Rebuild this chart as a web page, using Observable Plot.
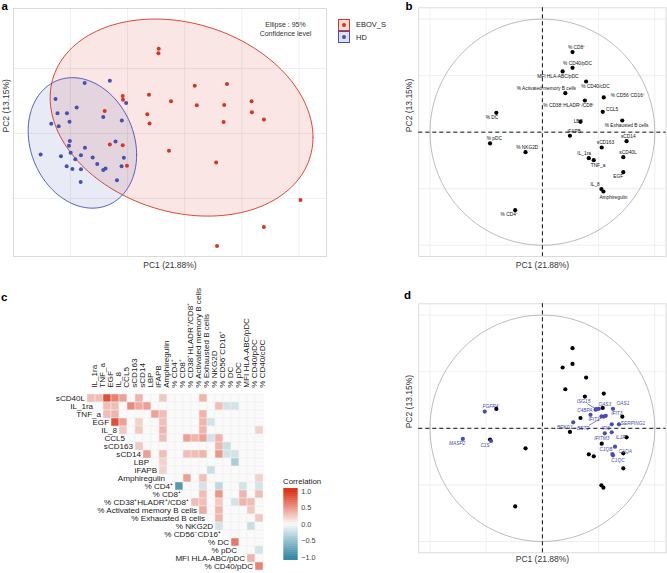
<!DOCTYPE html>
<html><head><meta charset="utf-8">
<script src="https://cdn.jsdelivr.net/npm/d3@7"></script>
<script src="https://cdn.jsdelivr.net/npm/@observablehq/plot@0.6"></script>
<style>
body{margin:0;background:#fff;font-family:"Liberation Sans",Arial,sans-serif;}
#fig{position:relative;width:667px;height:573px;overflow:hidden;background:#fff}
.panel{position:absolute}
.tag{position:absolute;font-weight:bold;font-size:11.5px;line-height:1;color:#000}
.key{position:absolute;width:10px;height:10px;border:1px solid;box-sizing:content-box}
.key i{position:absolute;left:3px;top:3px;width:4px;height:4px;border-radius:50%}
.ktxt{position:absolute;font-size:7.5px;line-height:1;color:#222}
</style></head><body><div id="fig"></div>
<script>
// ---------------- DATA ----------------
// Panel a: individual PCA scores
const ebovPC1 = [1.09,1.08,2.35,3.48,0.75,-0.17,-0.16,1.52,2.42,4.34,3.38,-0.80,0.69,4.35,0.77,3.36,4.77,-0.62,-0.17,1.45,3.10,-0.02,6.05,4.77,3.13];
const ebovPC2 = [2.61,2.47,1.47,1.52,1.19,1.15,1.04,0.99,0.87,0.99,0.88,0.69,0.59,0.65,0.31,0.35,0.43,-0.34,-0.36,-0.53,-0.89,-0.99,-2.05,-2.88,-3.46];
const hdPC1 = [-1.50,-0.62,-2.52,-0.05,-1.78,-2.45,-2.12,-0.85,-0.20,-2.67,-2.41,-2.03,-2.02,-2.05,-0.42,-3.04,-2.33,-1.99,-1.49,-1.63,-1.22,-1.83,-0.13,-2.13,-1.93,-1.63,-1.06,-0.85,-0.77,-0.21,-0.37,-1.64];
const hdPC2 = [1.55,1.62,1.06,0.94,0.80,0.62,0.62,0.51,0.40,0.30,0.22,0.36,-0.23,-0.38,-0.25,-0.65,-0.70,-0.59,-0.44,-0.67,-0.74,-0.79,-0.75,-1.01,-1.09,-1.10,-0.94,-1.12,-1.08,-1.01,-1.44,-1.49];
// 95% ellipses: centre and shape matrix
const ebovEllipseCenter = [1.89, 0.49];
const ebovEllipseShape = [[21.14, -2.80], [-2.80, 9.19]];
const hdEllipseCenter = [-1.58, -0.29];
const hdEllipseShape = [[3.60, -0.70], [-0.70, 4.03]];
const groups = ["EBOV_S", "HD"];
const gridA_x = [-2, 0, 2, 4, 6];
const gridA_y = [-2, 0, 2];

// Panel b/d: variable correlations with PCs
const vars = ["sCD40L","IL_1ra","TNF_a","EGF","IL_8","CCL5","sCD163","sCD14","LBP","iFAPB","Amphiregulin","% CD4⁺","% CD8⁺","% CD38⁺HLADR⁺/CD8⁺","% Activated memory B cells","% Exhausted B cells","% NKG2D","% CD56⁻CD16⁺","% DC","% pDC","MFI HLA-ABC/pDC","% CD40/pDC","% CD40/cDC"];
const varPC1 = [0.720,0.413,0.457,0.720,0.525,0.537,0.528,0.749,0.339,0.245,0.543,-0.242,0.268,0.378,0.204,0.711,-0.150,0.546,-0.410,-0.466,0.180,0.268,0.389];
const varPC2 = [-0.221,-0.230,-0.248,-0.354,-0.504,0.180,-0.136,-0.080,0.091,-0.032,-0.525,-0.690,0.708,0.280,0.345,0.103,-0.177,0.307,0.171,-0.100,0.537,0.569,0.448];
const varLabelNudge = [[4.7,-4.7],[-4.7,-4.7],[4.3,5],[-5,4.7],[-6.3,-5],[9.3,-2.3],[3.7,-5],[1.7,-5],[-2.3,0],[4.3,-4.7],[10,5.7],[-6,4.7],[4,-4.7],[-16,5.3],[-19,-4.3],[4.3,5],[1.7,-5],[24,-1.7],[-4.3,5],[4.3,-4.7],[-4.7,5],[5,-4.7],[9.3,5]];
const genes = ["FGFR4","MASP2","C1S","BRKD1","IFIT1","C4BPA","ISG15","OAS3","OAS1","","BST2","IFIT3","SERPING1","IFI6","IFITM3","IL1R","C1QB","C1QA","C1QC"];
const genePC1 = [-0.513,-0.708,-0.457,0.274,0.428,0.473,0.480,0.502,0.628,0.526,0.546,0.564,0.681,0.617,0.555,0.617,0.646,0.623,0.628];
const genePC2 = [0.148,-0.094,-0.112,0.053,0.119,0.165,0.169,0.172,0.172,0.106,0.104,0.110,0.035,0.035,-0.044,-0.035,-0.162,-0.227,-0.239];
const geneLabelNudge = [[5.7,-5],[-5.7,5],[-6,4.4],[-8.3,5],[3.6,4.7],[-10.7,1],[-12.7,-7.7],[6,-4.3],[10,-5],[0,0],[-20.7,12.3],[11,-2],[14,-1],[-6,4],[-3,5],[9,5],[-9,3],[13,-3],[5,5]];
const geneLinked = ["ISG15","BST2"];
const circleGrid = [-1, -0.5, 0, 0.5, 1];

// Panel c: correlation matrix, upper triangle (row i starts at column i)
const corrRows = vars.slice(0, 22);
const corrCols = vars.slice(1);
const corrUpper = [
  [0.3,0.3,0.85,0.6,0.45,0,0.35,0,0,0.25,0,0,0,0,0.35,0,0,0,0,0,0,0],
  [0,0.3,0.3,0,0.55,0.4,0.45,0,0,0,0,0,0,0,0,0.3,-0.2,-0.2,0,0,0],
  [0.3,0.35,0,0,0,0,0.45,0.3,0,0,0,0,0.35,0,0,0,0,0,0,0],
  [0.85,0.45,0,0.2,0,0,0.3,0,0,0,0,0.35,-0.2,0,0,0,0,0,0],
  [0.25,0,0.25,0,0,0.35,0,0,0,0,0.35,0,0,0,0,0,0,0.2],
  [0,0,0,0,0.3,0,0,0.45,0.35,0.45,-0.2,0.35,0,0,0,0,0],
  [0.25,0,0,0,0,0,0,0,0,0,0.35,-0.25,0,0,0,0],
  [0.45,0,0.3,0,0,0.3,0.3,0.35,0,0.5,-0.2,-0.2,0,0,0],
  [0,0.2,0,0,0,0,0,0,0,0,-0.4,0,0,0],
  [0.2,0,0,0,0,0,-0.25,0,0,0,0,0,0],
  [0,0,0.45,0,0.3,0,0,0,0,0,0,0.2],
  [-0.85,0,0,-0.2,0,-0.3,0,0,-0.2,0,-0.2],
  [0,0,0.3,0,0.5,0,0,0.35,0,0.3],
  [0.3,0.3,0,0.25,0,-0.2,0.35,0.3,0],
  [0.4,0,0.35,0,0,0,0.25,0],
  [0,0.35,0,0,0,0,0.25],
  [-0.2,0,0,0,-0.25,0],
  [0,0,0,0,0],
  [0.65,0,0,0],
  [0,0,-0.2],
  [0.35,0],
  [0.6]
];
const legendTicks = [1, 0.5, 0, -0.5, -1];
const legendTickLabels = ["1.0", "0.5", "0.0", "−0.5", "−1.0"];

// ---------------- STYLE ----------------
const FONT = "'Liberation Sans', Arial, Helvetica, sans-serif";
const RED = "#d9341f", BLUE = "#4450b4", GENE = "#4a4ab8";
const GRID = "#ebebeb", FRAME = "#d2d2d2";
const baseStyle = {fontFamily: FONT, background: "transparent", overflow: "visible"};
const fig = document.getElementById("fig");
function place(el, left, top) {
  const d = document.createElement("div");
  d.className = "panel"; d.style.left = left + "px"; d.style.top = top + "px";
  d.appendChild(el); fig.appendChild(d); return d;
}
function html(cls, left, top, text, extra) {
  const d = document.createElement("div");
  d.className = cls; d.style.left = left + "px"; d.style.top = top + "px";
  if (text) d.textContent = text;
  if (extra) Object.assign(d.style, extra);
  fig.appendChild(d); return d;
}
function ellipsePoints(center, shape, n = 160) {
  const a = Math.sqrt(shape[0][0]);
  const b = shape[0][1] / a;
  const c = Math.sqrt(shape[1][1] - b * b);
  return d3.range(n + 1).map(i => {
    const t = 2 * Math.PI * i / n;
    return {x: center[0] + a * Math.cos(t), y: center[1] + b * Math.cos(t) + c * Math.sin(t)};
  });
}

// ---------------- PANEL A ----------------
const ebov = ebovPC1.map((x, i) => ({x, y: ebovPC2[i]}));
const hd = hdPC1.map((x, i) => ({x, y: hdPC2[i]}));
const pa = Plot.plot({
  width: 330, height: 280, marginLeft: 13, marginRight: 4, marginTop: 8, marginBottom: 24,
  x: {domain: [-3.99, 6.96], axis: null},
  y: {domain: [-3.785, 3.846], axis: null},
  style: baseStyle,
  marks: [
    Plot.ruleX(gridA_x, {stroke: GRID, strokeWidth: 0.8}),
    Plot.ruleY(gridA_y, {stroke: GRID, strokeWidth: 0.8}),
    Plot.frame({stroke: FRAME, strokeWidth: 0.8}),
    Plot.line(ellipsePoints(ebovEllipseCenter, ebovEllipseShape), {x: "x", y: "y", fill: RED, fillOpacity: 0.12, stroke: RED, strokeWidth: 0.9}),
    Plot.line(ellipsePoints(hdEllipseCenter, hdEllipseShape), {x: "x", y: "y", fill: BLUE, fillOpacity: 0.12, stroke: BLUE, strokeWidth: 0.9}),
    Plot.dot(hd, {x: "x", y: "y", r: 2, fill: BLUE}),
    Plot.dot(ebov, {x: "x", y: "y", r: 2, fill: RED}),
    Plot.text(["Ellipse : 95%\nConfidence level"], {text: d => d, frameAnchor: "top-right", textAnchor: "middle", lineAnchor: "top", dx: -41, dy: 12, fontSize: 7, lineHeight: 1.3, fill: "#333"}),
    Plot.text(["PC1 (21.88%)"], {text: d => d, frameAnchor: "bottom", dy: 11, fontSize: 8.5, fill: "#333"}),
    Plot.text(["PC2 (13.15%)"], {text: d => d, frameAnchor: "left", rotate: -90, dx: -7, fontSize: 8.5, fill: "#333"})
  ]
});
place(pa, 0, 0);
// legend for a
[[RED, "#f8ddd7", groups[0], 18.5], [BLUE, "#dfe1f3", groups[1], 31]].forEach(([c, bg, label, top]) => {
  const k = html("key", 337.5, top, "", {borderColor: c, background: bg});
  const dot = document.createElement("i"); dot.style.background = c; k.appendChild(dot);
  html("ktxt", 356, top + 2.5, label);
});

// ---------------- PANEL B & D ----------------
const varPts = vars.map((name, i) => ({name, x: varPC1[i], y: varPC2[i]}));
const genePts = genes.map((name, i) => ({name, x: genePC1[i], y: genePC2[i]}));
const circle = d3.range(241).map(i => ({x: Math.cos(2 * Math.PI * i / 240), y: Math.sin(2 * Math.PI * i / 240)}));
function corrCircle(extra, dims) {
  return Plot.plot({
    width: 327, height: dims.h, marginLeft: 78.3, marginRight: 1.5, marginTop: dims.mt, marginBottom: dims.mb,
    x: {domain: [-1.1, 1.1], axis: null},
    y: {domain: [-1.1, 1.1], axis: null},
    style: baseStyle,
    marks: [
      Plot.ruleX(circleGrid, {stroke: GRID, strokeWidth: 0.8}),
      Plot.ruleY(circleGrid, {stroke: GRID, strokeWidth: 0.8}),
      Plot.frame({stroke: FRAME, strokeWidth: 0.8}),
      Plot.line(circle, {x: "x", y: "y", stroke: "#a9a9a9", strokeWidth: 0.8}),
      Plot.ruleX([0], {stroke: "#111", strokeWidth: 1, strokeDasharray: "4,3"}),
      Plot.ruleY([0], {stroke: "#111", strokeWidth: 1, strokeDasharray: "4,3"}),
      Plot.dot(varPts, {x: "x", y: "y", r: 2.1, fill: "#000"}),
      ...extra,
      Plot.text(["PC1 (21.88%)"], {text: d => d, frameAnchor: "bottom", dy: dims.xdy, fontSize: 8.5, fill: "#333"}),
      Plot.text(["PC2 (13.15%)"], {text: d => d, frameAnchor: "left", rotate: -90, dx: -10, fontSize: 8.5, fill: "#333"})
    ]
  });
}
const bLabels = varPts.map((d, i) => Plot.text([d], {x: "x", y: "y", text: "name", dx: varLabelNudge[i][0], dy: varLabelNudge[i][1], fontSize: 4.8, fill: "#111"}));
place(corrCircle(bLabels, {h: 280, mt: 7.3, mb: 24, xdy: 11}), 340, 0);

const kpx = (327 - 78.3 - 1.5) / 2.2; // pixels per unit in panels b/d
const geneLinks = genePts.map((d, i) => ({...d, nx: geneLabelNudge[i][0], ny: geneLabelNudge[i][1]}))
  .filter(d => geneLinked.includes(d.name))
  .map(d => ({x1: d.x, y1: d.y, x2: d.x + 0.72 * d.nx / kpx, y2: d.y - 0.72 * d.ny / kpx}));
const dMarks = [
  Plot.link(geneLinks, {x1: "x1", y1: "y1", x2: "x2", y2: "y2", stroke: GENE, strokeWidth: 0.7}),
  Plot.dot(genePts, {x: "x", y: "y", r: 2.1, fill: GENE}),
  ...genePts.map((d, i) => Plot.text([d], {x: "x", y: "y", text: "name", dx: geneLabelNudge[i][0], dy: geneLabelNudge[i][1], fontSize: 4.8, fontStyle: "italic", fill: GENE}))
];
place(corrCircle(dMarks, {h: 293, mt: 23.3, mb: 20.7, xdy: 9.5}), 340, 280);

// ---------------- PANEL C ----------------
const colorScale = {type: "linear", domain: [-1, 0, 1], range: ["#3589a4", "#fafafa", "#dd3216"], interpolate: "rgb", clamp: true};
const cells = [];
corrUpper.forEach((vals, i) => vals.forEach((v, k) => cells.push({row: corrRows[i], col: corrCols[i + k], v})));
const pc = Plot.plot({
  width: 340, height: 293, marginLeft: 81.7, marginRight: 70.9, marginTop: 110.8, marginBottom: 0.3,
  x: {domain: corrCols, padding: 0, axis: null},
  y: {domain: corrRows, padding: 0, axis: null},
  color: colorScale,
  style: baseStyle,
  marks: [
    Plot.cell(cells, {x: "col", y: "row", fill: "v", stroke: "#efefef", strokeWidth: 0.5}),
    Plot.text(corrRows, {x: (d, i) => corrCols[i], y: d => d, text: d => d, textAnchor: "end", dx: -6.4, fontSize: 8.1, fill: "#1a1a1a"}),
    Plot.text(corrCols, {x: d => d, text: d => d, frameAnchor: "top", rotate: -90, textAnchor: "start", dy: -3.5, fontSize: 8.1, fill: "#1a1a1a"})
  ]
});
place(pc, 0, 280);
// colour bar legend
const step = 0.06;
const bins = d3.range(-1.08, 1.08 - 1e-9, step);
const pleg = Plot.plot({
  width: 60, height: 85, marginLeft: 3.3, marginRight: 42.3, marginTop: 7.7, marginBottom: 4.7,
  x: {domain: [0, 1], axis: null},
  y: {domain: [-1.09, 1.09], axis: null},
  color: colorScale,
  style: baseStyle,
  marks: [
    Plot.rect(bins, {x1: () => 0, x2: () => 1, y1: d => d, y2: d => d + step, fill: d => d + step / 2}),
    Plot.text(legendTicks, {x: () => 1, y: d => d, text: (d, i) => legendTickLabels[i], textAnchor: "start", dx: 3, fontSize: 7.3, fill: "#444"})
  ]
});
place(pleg, 280, 480);
html("ktxt", 283, 477.5, "Correlation", {fontSize: "7.8px"});

// ---------------- TAGS ----------------
html("tag", 1.5, 1, "a");
html("tag", 405.5, 0.5, "b");
html("tag", 1, 291.5, "c");
html("tag", 404, 289.5, "d");
</script></body></html>
